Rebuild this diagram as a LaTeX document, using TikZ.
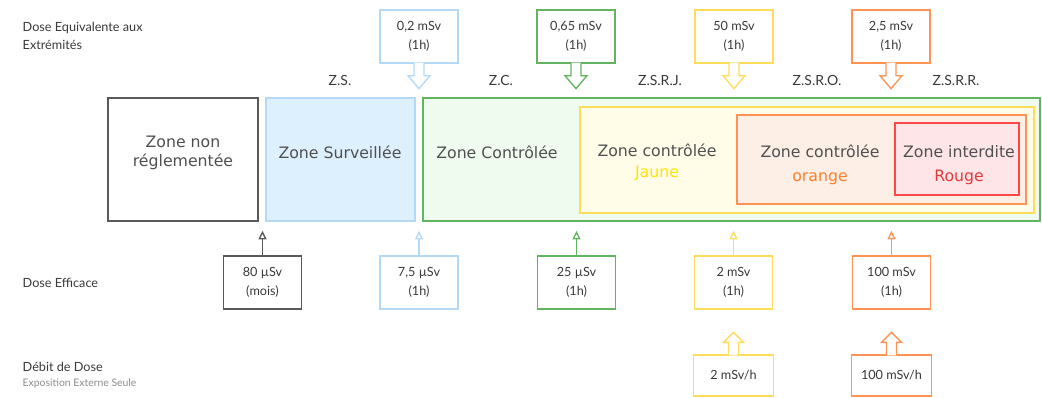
\documentclass[tikz,border=0pt]{standalone}
\usepackage{fontspec}
\setmainfont{Lato}
\newfontfamily\zonefont{DejaVu Sans}
\usetikzlibrary{arrows.meta}

\definecolor{txtgray}{HTML}{3A3A3A}
\definecolor{zonetxt}{HTML}{505050}
\definecolor{nrborder}{HTML}{5A5A5A}
\definecolor{zsborder}{HTML}{B3D9F6}
\definecolor{zsfill}{HTML}{DDF0FD}
\definecolor{zcborder}{HTML}{62B55E}
\definecolor{zcfill}{HTML}{EEFBEE}
\definecolor{zjborder}{HTML}{FFDC5C}
\definecolor{zjfill}{HTML}{FFFDE8}
\definecolor{zoborder}{HTML}{FF9355}
\definecolor{zofill}{HTML}{FDEFE5}
\definecolor{zrborder}{HTML}{FF4747}
\definecolor{zrfill}{HTML}{FDE5E8}
\definecolor{jaune}{HTML}{FFE400}
\definecolor{orangetxt}{HTML}{FF7F2A}
\definecolor{rouge}{HTML}{E23A3A}

\tikzset{
  zonebox/.style={draw,line width=1.1pt,inner sep=0pt},
  zonelabel/.style={font=\zonefont\fontsize{11.8}{14.2}\selectfont,text=zonetxt,align=center},
  dosebox/.style={draw,line width=1pt,fill=white,minimum width=58.5pt,minimum height=39.75pt,
    font=\fontsize{9.5}{14}\selectfont,text=txtgray,align=center},
  ratebox/.style={dosebox,minimum width=60pt,minimum height=30.75pt},
  code/.style={font=\fontsize{10.5}{12}\selectfont,text=txtgray},
  rowlabel/.style={font=\fontsize{9.5}{13.5}\selectfont,text=txtgray,align=left,anchor=west},
  block/.style={line width=1pt,fill=white},
  thin/.style={->,line width=1pt,shorten >=6.75pt}
}

\begin{document}
\begin{tikzpicture}[x=0.75pt,y=-0.75pt,>={Triangle[open,length=6.5pt,width=6pt]}]
\useasboundingbox (0,0) rectangle (1042,397);

% zones
\node[zonebox,draw=nrborder,fill=white,minimum width=112.5pt,minimum height=92.25pt] (nonreg) at (183,159.5) {};
\node[zonebox,draw=zsborder,fill=zsfill,minimum width=111.75pt,minimum height=92.25pt] (zs) at (340.5,159.5) {};
\node[zonebox,draw=zcborder,fill=zcfill,minimum width=462.75pt,minimum height=92.25pt] (zc) at (731.5,159.5) {};
\node[zonebox,draw=zjborder,fill=zjfill,minimum width=340.5pt,minimum height=79.5pt] (zj) at (807,160) {};
\node[zonebox,draw=zoborder,fill=zofill,minimum width=216.75pt,minimum height=66.75pt] (zo) at (881.5,159.5) {};
\node[zonebox,draw=zrborder,fill=zrfill,minimum width=93pt,minimum height=54pt] (zr) at (957,159) {};

\node[zonelabel] (nonreglbl) at (183,153) {Zone non\\r\'eglement\'ee};
\node[zonelabel] (zslbl) at (340,152) {Zone Surveill\'ee};
\node[zonelabel] (zclbl) at (497,152) {Zone Contr\^ol\'ee};
\node[zonelabel] (zjlbl) at (657,162) {Zone contr\^ol\'ee\\[1.5pt]\textcolor{jaune}{Jaune}};
\node[zonelabel] (zolbl) at (820,165) {Zone contr\^ol\'ee\\[3.5pt]\textcolor{orangetxt}{orange}};
\node[zonelabel] (zrlbl) at (959,165) {Zone interdite\\[3.5pt]\textcolor{rouge}{Rouge}};

% zone codes
\node[code] (czs) at (340,80) {Z.S.};
\node[code] (czc) at (501,80) {Z.C.};
\node[code] (czsrj) at (660,80) {Z.S.R.J.};
\node[code] (czsro) at (817,80) {Z.S.R.O.};
\node[code] (czsrr) at (956,80) {Z.S.R.R.};

% row labels
\node[rowlabel] (rowext) at (18,36) {Dose Equivalente aux\\Extr\'emit\'es};
\node[rowlabel] (roweff) at (18,283) {Dose Efficace};
\node[rowlabel] (rowrate) at (18,367) {D\'ebit de Dose};
\node[rowlabel,font=\fontsize{7.8}{9}\selectfont,text=black!45] (rowexp) at (18,384) {Exposition Externe Seule};

% extremites
\node[dosebox,draw=zsborder] (x02) at (419,36.5) {0,2 mSv\\(1h)};
\node[dosebox,draw=zcborder] (x065) at (576,36.5) {0,65 mSv\\(1h)};
\node[dosebox,draw=zjborder] (x50) at (734,36.5) {50 mSv\\(1h)};
\node[dosebox,draw=zoborder] (x25) at (891,36.5) {2,5 mSv\\(1h)};

\draw[block,draw=zsborder] (x02.south) ++(-5,-1) -- ++(0,13) -- ++(-6,0) -- ++(11,13) -- ++(11,-13) -- ++(-6,0) -- ++(0,-13);
\draw[block,draw=zcborder] (x065.south) ++(-5,-1) -- ++(0,13) -- ++(-6,0) -- ++(11,13) -- ++(11,-13) -- ++(-6,0) -- ++(0,-13);
\draw[block,draw=zjborder] (x50.south) ++(-5,-1) -- ++(0,13) -- ++(-6,0) -- ++(11,13) -- ++(11,-13) -- ++(-6,0) -- ++(0,-13);
\draw[block,draw=zoborder] (x25.south) ++(-5,-1) -- ++(0,13) -- ++(-6,0) -- ++(11,13) -- ++(11,-13) -- ++(-6,0) -- ++(0,-13);

% dose efficace
\node[dosebox,draw=nrborder] (e80) at (262.5,282.5) {80 µSv\\(mois)};
\node[dosebox,draw=zsborder] (e75) at (419,282.5) {7,5 µSv\\(1h)};
\node[dosebox,draw=zcborder] (e25) at (576.5,282.5) {25 µSv\\(1h)};
\node[dosebox,draw=zjborder] (e2) at (733.5,282.5) {2 mSv\\(1h)};
\node[dosebox,draw=zoborder] (e100) at (891.5,282.5) {100 mSv\\(1h)};

\draw[thin,draw=nrborder] (e80.north) -- (nonreg.south -| e80.north);
\draw[thin,draw=zsborder] (e75.north) -- (zs.south -| e75.north);
\draw[thin,draw=zcborder] (e25.north) -- (zc.south -| e25.north);
\draw[thin,draw=zjborder] (e2.north) -- (zc.south -| e2.north);
\draw[thin,draw=zoborder] (e100.north) -- (zc.south -| e100.north);

% debit de dose
\node[ratebox,draw=zjborder] (r2) at (733.5,375.5) {2 mSv/h};
\node[ratebox,draw=zoborder] (r100) at (891.5,375.5) {100 mSv/h};

\draw[block,draw=zjborder] (r2.north) ++(-5,1) -- ++(0,-13) -- ++(-5,0) -- ++(10,-10) -- ++(10,10) -- ++(-5,0) -- ++(0,13);
\draw[block,draw=zoborder] (r100.north) ++(-5,1) -- ++(0,-13) -- ++(-5,0) -- ++(10,-10) -- ++(10,10) -- ++(-5,0) -- ++(0,13);
\end{tikzpicture}
\end{document}
